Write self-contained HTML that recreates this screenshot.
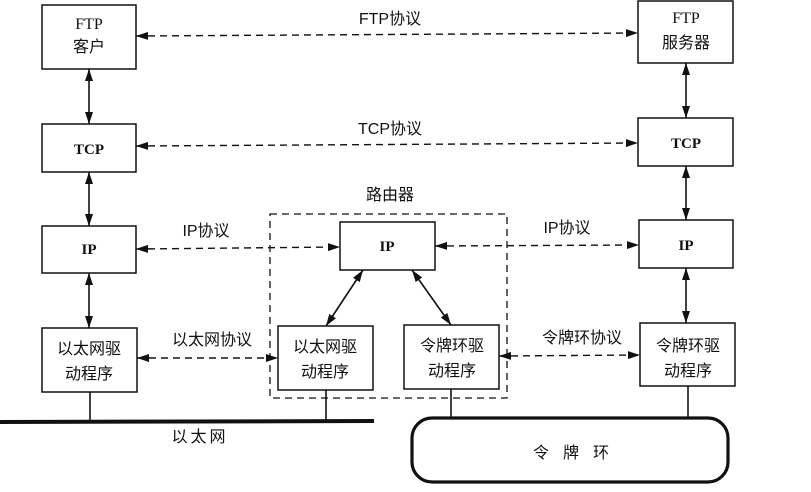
<!DOCTYPE html>
<html><head><meta charset="utf-8"><style>
html,body{margin:0;padding:0;background:#fff;width:811px;height:492px;overflow:hidden}
svg text{font-family:"Liberation Serif","Noto Sans CJK SC",serif;fill:#111}
.c{font-family:"Liberation Sans","Noto Sans CJK SC",sans-serif}
</style></head><body>
<svg width="811" height="492" viewBox="0 0 811 492" xmlns="http://www.w3.org/2000/svg">
<defs>
<marker id="a" viewBox="0 0 12 8" refX="12" refY="4" markerWidth="12" markerHeight="8" markerUnits="userSpaceOnUse" orient="auto-start-reverse"><path d="M0,0L12,4L0,8z" fill="#111"/></marker>
</defs>
<g fill="#fff" stroke="#111" stroke-width="1.5">
<rect x="42" y="5" width="94" height="64"/>
<rect x="42" y="124" width="94" height="48"/>
<rect x="42" y="226" width="94" height="47"/>
<rect x="42" y="328" width="95" height="64"/>
<rect x="638" y="1" width="95" height="62"/>
<rect x="638" y="118" width="95" height="48"/>
<rect x="639" y="220" width="94" height="48"/>
<rect x="640" y="323" width="95" height="63"/>
<rect x="340" y="222" width="95" height="48"/>
<rect x="278" y="326" width="95" height="64"/>
<rect x="404" y="325" width="95" height="64"/>
</g>
<rect x="270" y="214" width="237" height="184" fill="none" stroke="#111" stroke-width="1.3" stroke-dasharray="7,5"/>
<g stroke="#111" stroke-width="1.4" stroke-dasharray="7,5" fill="none">
<line x1="136" y1="36" x2="638" y2="33" marker-start="url(#a)" marker-end="url(#a)"/>
<line x1="136" y1="146" x2="638" y2="143" marker-start="url(#a)" marker-end="url(#a)"/>
<line x1="136" y1="249" x2="340" y2="247" marker-start="url(#a)" marker-end="url(#a)"/>
<line x1="435" y1="246" x2="639" y2="245" marker-start="url(#a)" marker-end="url(#a)"/>
<line x1="137" y1="358" x2="278" y2="358" marker-start="url(#a)" marker-end="url(#a)"/>
<line x1="499" y1="356" x2="640" y2="355" marker-start="url(#a)" marker-end="url(#a)"/>
</g>
<g stroke="#111" stroke-width="1.6" fill="none">
<line x1="89" y1="69" x2="89" y2="124" marker-start="url(#a)" marker-end="url(#a)"/>
<line x1="89" y1="172" x2="89" y2="226" marker-start="url(#a)" marker-end="url(#a)"/>
<line x1="89" y1="273" x2="89" y2="328" marker-start="url(#a)" marker-end="url(#a)"/>
<line x1="686" y1="63" x2="686" y2="118" marker-start="url(#a)" marker-end="url(#a)"/>
<line x1="686" y1="166" x2="686" y2="220" marker-start="url(#a)" marker-end="url(#a)"/>
<line x1="686" y1="268" x2="686" y2="323" marker-start="url(#a)" marker-end="url(#a)"/>
<line x1="363" y1="270" x2="326" y2="326" marker-start="url(#a)" marker-end="url(#a)"/>
<line x1="412" y1="270" x2="451" y2="325" marker-start="url(#a)" marker-end="url(#a)"/>
<line x1="90" y1="392" x2="90" y2="422"/>
<line x1="326" y1="390" x2="326" y2="422"/>
<line x1="451" y1="389" x2="451" y2="418"/>
<line x1="688" y1="386" x2="688" y2="417"/>
</g>
<line x1="0" y1="422" x2="374" y2="421" stroke="#111" stroke-width="4"/>
<rect x="412" y="418" width="316" height="64" rx="20" fill="#fff" stroke="#111" stroke-width="3.2"/>
<g font-size="16" text-anchor="middle">
<text x="89" y="29">FTP</text>
<text x="89" y="52" class="c">客户</text>
<text x="89" y="154" font-weight="bold" font-size="15">TCP</text>
<text x="89" y="254" font-weight="bold" font-size="15">IP</text>
<text x="89" y="354" class="c">以太网驱</text>
<text x="89" y="379" class="c">动程序</text>
<text x="686" y="23">FTP</text>
<text x="686" y="48" class="c">服务器</text>
<text x="686" y="148" font-weight="bold" font-size="15">TCP</text>
<text x="686" y="250" font-weight="bold" font-size="15">IP</text>
<text x="688" y="351" class="c">令牌环驱</text>
<text x="688" y="376" class="c">动程序</text>
<text x="387" y="251" font-weight="bold" font-size="15">IP</text>
<text x="325" y="352" class="c">以太网驱</text>
<text x="325" y="377" class="c">动程序</text>
<text x="452" y="351" class="c">令牌环驱</text>
<text x="452" y="376" class="c">动程序</text>
<text x="390" y="24" class="c">FTP协议</text>
<text x="390" y="134" class="c">TCP协议</text>
<text x="390" y="200" class="c">路由器</text>
<text x="206" y="236" class="c">IP协议</text>
<text x="567" y="233" class="c">IP协议</text>
<text x="212" y="345" class="c">以太网协议</text>
<text x="582" y="343" class="c">令牌环协议</text>
<text x="200" y="442" class="c" letter-spacing="3">以太网</text>
<text x="578" y="458" class="c" letter-spacing="14">令牌环</text>
</g>
</svg>
</body></html>
